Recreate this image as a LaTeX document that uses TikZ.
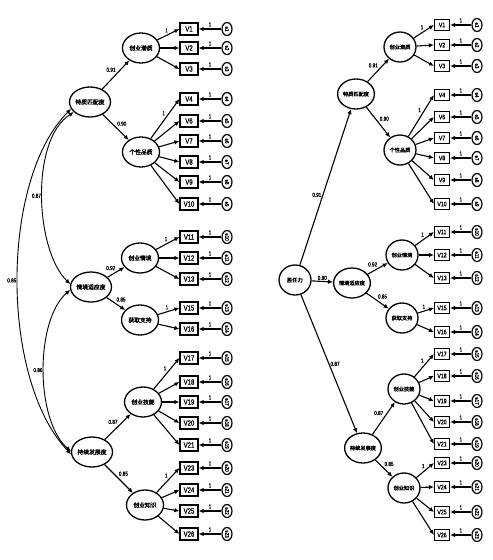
\documentclass[tikz,border=0pt]{standalone}
\usepackage{fontspec}
\setmainfont{Liberation Sans}
\newfontfamily\cjk{Noto Sans CJK SC}[FakeBold=2]
\newfontfamily\narrowf{Liberation Sans}[FakeStretch=0.8,FakeBold=1]
\usetikzlibrary{shapes.geometric,arrows.meta}
\begin{document}
\begin{tikzpicture}[x=1pt,y=-1pt,
  latL/.style={ellipse,draw,line width=1.3pt,minimum width=37pt,minimum height=30pt,inner sep=0pt,font=\cjk\fontsize{5.8}{6}\selectfont},
  latR/.style={ellipse,draw,line width=1.3pt,minimum width=32pt,minimum height=30pt,inner sep=0pt,font=\cjk\fontsize{5.2}{6}\selectfont},
  obsL/.style={rectangle,draw,line width=1.2pt,minimum width=18pt,minimum height=12pt,inner sep=0pt,font=\narrowf\fontsize{7.5}{8}\selectfont},
  obsR/.style={rectangle,draw,line width=1.2pt,minimum width=15pt,minimum height=11pt,inner sep=0pt,font=\narrowf\fontsize{6.5}{7}\selectfont},
  errn/.style={ellipse,draw,line width=1.2pt,minimum width=13pt,minimum height=10pt,inner sep=0pt,rotate=-90,font=\narrowf\fontsize{5.5}{6}\selectfont},
  arr/.style={-{Latex[length=5pt,width=4.5pt]},line width=1.1pt},
  cov/.style={{Latex[length=5pt,width=4.5pt]}-{Latex[length=5pt,width=4.5pt]},line width=0.9pt},
  lbl/.style={font=\narrowf\fontsize{5.8}{6}\selectfont,inner sep=1pt},
]
\useasboundingbox (0,0) rectangle (493,560);

% ================= LEFT PANEL =================
\node[latL] (LA) at (90,102) {特质匹配度};
\node[latL] (LB) at (91,287) {情境适应度};
\node[latL] (LC) at (92,452) {持续发展度};
\node[latL] (LA1) at (141,48) {创业潜质};
\node[latL] (LA2) at (141,152) {个性品质};
\node[latL] (LB1) at (140,258) {创业情境};
\node[latL] (LB2) at (140,320) {获取支持};
\node[latL] (LC1) at (143,402) {创业技能};
\node[latL] (LC2) at (145,505) {创业知识};

\draw[arr] (LA) -- (LA1) node[lbl,pos=0.55,anchor=south east] {0.91};
\draw[arr] (LA) -- (LA2) node[lbl,pos=0.5,anchor=south west] {0.90};
\draw[arr] (LB) -- (LB1) node[lbl,pos=0.55,anchor=south east] {0.92};
\draw[arr] (LB) -- (LB2) node[lbl,pos=0.45,anchor=south west] {0.85};
\draw[arr] (LC) -- (LC1) node[lbl,pos=0.55,anchor=south east] {0.87};
\draw[arr] (LC) -- (LC2) node[lbl,pos=0.45,anchor=south west] {0.85};

\draw[cov] (LA.212) .. controls (30,140) and (35,250) .. (LB.172)
  node[lbl,pos=0.5,anchor=east] {0.87};
\draw[cov] (LB.188) .. controls (35,320) and (35,420) .. (LC.178)
  node[lbl,pos=0.5,anchor=east] {0.86};
\draw[cov] (LA.200) .. controls (0,180) and (0,380) .. (LC.186)
  node[lbl,pos=0.5,anchor=east] {0.85};

\foreach \v/\y/\e/\f/\one in {
  1/29/1/LA1/1, 2/48/2/LA1/0, 3/69/3/LA1/0,
  4/99/4/LA2/1, 6/121/5/LA2/0, 7/141/6/LA2/0, 8/162/7/LA2/0, 9/182/8/LA2/0, 10/204/9/LA2/0,
  11/237/10/LB1/1, 12/258/11/LB1/0, 13/279/12/LB1/0,
  15/308/13/LB2/1, 16/329/14/LB2/0,
  17/358/15/LC1/1, 18/382/16/LC1/0, 19/402/17/LC1/0, 20/423/18/LC1/0, 21/445/19/LC1/0,
  23/468/20/LC2/1, 24/490/21/LC2/0, 25/511/22/LC2/0, 26/534/23/LC2/0}{
  \node[obsL] (LV\v) at (189,\y) {V\v};
  \node[errn] (Le\e) at (227,\y) {e\e};
  \draw[arr] (Le\e) -- (LV\v) node[lbl,midway,above=1pt] {1};
  \ifnum\one=1
    \draw[arr] (\f) -- (LV\v.west) node[lbl,pos=0.55,anchor=south east] {1};
  \else
    \draw[arr] (\f) -- (LV\v.west);
  \fi
}

% ================= RIGHT PANEL =================
\node[latR] (RG) at (295,280) {胜任力};
\node[latR] (RA) at (356,94) {特质匹配度};
\node[latR] (RB) at (352,283) {情境适应度};
\node[latR] (RC) at (363,448) {持续发展度};
\node[latR] (RA1) at (400,47) {创业潜质};
\node[latR] (RA2) at (400,150) {个性品质};
\node[latR] (RB1) at (402,255) {创业情境};
\node[latR] (RB2) at (402,318) {获取支持};
\node[latR] (RC1) at (404,389) {创业技能};
\node[latR] (RC2) at (404,488) {创业知识};

\draw[arr] (RG) -- (RA) node[lbl,pos=0.45,anchor=east] {0.91};
\draw[arr] (RG) -- (RB) node[lbl,pos=0.5,anchor=south] {0.90};
\draw[arr] (RG) -- (RC) node[lbl,pos=0.5,anchor=west] {0.87};
\draw[arr] (RA) -- (RA1) node[lbl,pos=0.55,anchor=south east] {0.91};
\draw[arr] (RA) -- (RA2) node[lbl,pos=0.5,anchor=south west] {0.90};
\draw[arr] (RB) -- (RB1) node[lbl,pos=0.55,anchor=south east] {0.92};
\draw[arr] (RB) -- (RB2) node[lbl,pos=0.45,anchor=south west] {0.85};
\draw[arr] (RC) -- (RC1) node[lbl,pos=0.55,anchor=south east] {0.87};
\draw[arr] (RC) -- (RC2) node[lbl,pos=0.45,anchor=south west] {0.85};

\foreach \v/\y/\e/\f/\one in {
  1/25/1/RA1/1, 2/45/2/RA1/0, 3/66/3/RA1/0,
  4/95/4/RA2/1, 6/117/5/RA2/0, 7/138/6/RA2/0, 8/158/7/RA2/0, 9/180/8/RA2/0, 10/204/9/RA2/0,
  11/232/10/RB1/1, 12/255/11/RB1/0, 13/278/12/RB1/0,
  15/308/13/RB2/1, 16/332/14/RB2/0,
  17/354/15/RC1/1, 18/376/16/RC1/0, 19/401/17/RC1/0, 20/422/18/RC1/0, 21/444/19/RC1/0,
  23/463/20/RC2/1, 24/487/21/RC2/0, 25/512/22/RC2/0, 26/535/23/RC2/0}{
  \node[obsR] (RV\v) at (442,\y) {V\v};
  \node[errn] (Re\e) at (477,\y) {e\e};
  \draw[arr] (Re\e) -- (RV\v) node[lbl,midway,above=1pt] {1};
  \ifnum\one=1
    \draw[arr] (\f) -- (RV\v.west) node[lbl,pos=0.55,anchor=south east] {1};
  \else
    \draw[arr] (\f) -- (RV\v.west);
  \fi
}
\end{tikzpicture}
\end{document}
